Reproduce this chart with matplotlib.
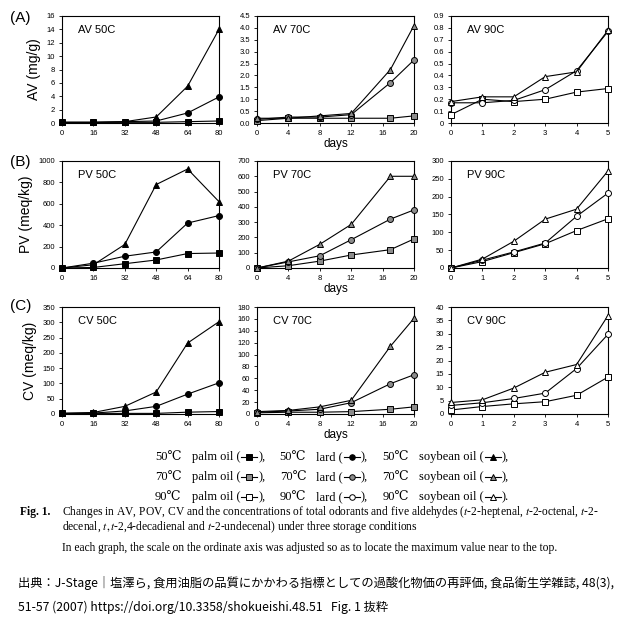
import numpy as np
import matplotlib
matplotlib.use('Agg')
import matplotlib.pyplot as plt
from matplotlib.lines import Line2D

plt.rcParams['font.family'] = ['Liberation Sans', 'DejaVu Sans']
plt.rcParams['mathtext.fontset'] = 'stix'

# storage days for each temperature
days50 = [0, 16, 32, 48, 64, 80]
days70 = [0, 4, 8, 12, 17, 20]
days90 = [0, 1, 2, 3, 4, 5]

# AV (mg/g)
av50_palm = [0.1, 0.1, 0.1, 0.1, 0.2, 0.3]
av50_lard = [0.1, 0.1, 0.2, 0.3, 1.5, 3.9]
av50_soy = [0.1, 0.1, 0.2, 0.9, 5.5, 14.0]
av70_palm = [0.1, 0.2, 0.2, 0.2, 0.2, 0.3]
av70_lard = [0.15, 0.25, 0.25, 0.35, 1.7, 2.65]
av70_soy = [0.2, 0.2, 0.3, 0.4, 2.25, 4.1]
av90_palm = [0.07, 0.2, 0.18, 0.2, 0.26, 0.29]
av90_lard = [0.17, 0.17, 0.19, 0.28, 0.44, 0.77]
av90_soy = [0.18, 0.22, 0.22, 0.39, 0.43, 0.78]

# PV (meq/kg)
pv50_palm = [0, 5, 40, 75, 135, 140]
pv50_lard = [0, 45, 110, 150, 420, 490]
pv50_soy = [0, 30, 220, 780, 925, 620]
pv70_palm = [0, 15, 45, 85, 120, 190]
pv70_lard = [0, 40, 80, 185, 320, 380]
pv70_soy = [0, 45, 155, 285, 600, 600]
pv90_palm = [0, 18, 43, 68, 105, 138]
pv90_lard = [0, 22, 45, 70, 145, 210]
pv90_soy = [0, 25, 75, 137, 165, 272]

# CV (meq/kg)
cv50_palm = [2, 2, 2, 2, 6, 8]
cv50_lard = [2, 3, 10, 25, 65, 102]
cv50_soy = [2, 5, 25, 72, 232, 302]
cv70_palm = [2, 3, 3, 4, 8, 12]
cv70_lard = [3, 5, 8, 19, 51, 66]
cv70_soy = [4, 6, 12, 23, 114, 161]
cv90_palm = [1.5, 2.8, 3.8, 4.6, 7.0, 13.8]
cv90_lard = [3.2, 4.2, 5.8, 7.8, 17.0, 29.8]
cv90_soy = [4.3, 5.3, 9.7, 15.6, 18.5, 36.8]

xticks50 = [0, 16, 32, 48, 64, 80]
xticks70 = [0, 4, 8, 12, 16, 20]
xticks90 = [0, 1, 2, 3, 4, 5]

yt_av50 = [0, 2, 4, 6, 8, 10, 12, 14, 16]
yt_av70 = [0.0, 0.5, 1.0, 1.5, 2.0, 2.5, 3.0, 3.5, 4.0, 4.5]
yl_av70 = ['0.0', '0.5', '1.0', '1.5', '2.0', '2.5', '3.0', '3.5', '4.0', '4.5']
yt_av90 = [0, 0.1, 0.2, 0.3, 0.4, 0.5, 0.6, 0.7, 0.8, 0.9]
yl_av90 = ['0', '0.1', '0.2', '0.3', '0.4', '0.5', '0.6', '0.7', '0.8', '0.9']
yt_pv50 = [0, 200, 400, 600, 800, 1000]
yt_pv70 = [0, 100, 200, 300, 400, 500, 600, 700]
yt_pv90 = [0, 50, 100, 150, 200, 250, 300]
yt_cv50 = [0, 50, 100, 150, 200, 250, 300, 350]
yt_cv70 = [0, 20, 40, 60, 80, 100, 120, 140, 160, 180]
yt_cv90 = [0, 5, 10, 15, 20, 25, 30, 35, 40]

fills = {50: 'black', 70: '#8c8c8c', 90: 'white'}
W = H = 640.0

fig = plt.figure(figsize=(6.4, 6.4), dpi=100)

col_left = [62, 257, 451]
row_top = [16, 161, 307]
aw, ah = 157, 107


def make_axes(r, c):
    return fig.add_axes([col_left[c] / W, 1 - (row_top[r] + ah) / H, aw / W, ah / H])


def draw_panel(r, c, temp, x, palm, lard, soy, xt, yt, title, ylab=None, ytl=None):
    ax = make_axes(r, c)
    fc = fills[temp]
    for y, m, ms in [(palm, 's', 4), (lard, 'o', 4.3), (soy, '^', 4.5)]:
        ax.plot(x, y, color='black', lw=0.8, marker=m, ms=ms, mfc=fc,
                mec='black', mew=0.7, clip_on=False, zorder=3)
    ax.set_xlim(xt[0], xt[-1])
    ax.set_ylim(yt[0], yt[-1])
    ax.set_xticks(xt)
    ax.set_yticks(yt)
    if ytl is not None:
        ax.set_yticklabels(ytl)
    ax.tick_params(labelsize=5.5, length=2, width=0.6, pad=3, direction='out')
    for s in ax.spines.values():
        s.set_linewidth(0.8)
    ax.text(0.1, 0.92, title, transform=ax.transAxes, fontsize=8, va='top')
    if ylab:
        ax.set_ylabel(ylab, fontsize=10, labelpad=4)
    if c == 1:
        ax.set_xlabel('days', fontsize=8.5, labelpad=1)
    return ax


draw_panel(0, 0, 50, days50, av50_palm, av50_lard, av50_soy, xticks50, yt_av50, 'AV 50C', 'AV (mg/g)')
draw_panel(0, 1, 70, days70, av70_palm, av70_lard, av70_soy, xticks70, yt_av70, 'AV 70C', ytl=yl_av70)
draw_panel(0, 2, 90, days90, av90_palm, av90_lard, av90_soy, xticks90, yt_av90, 'AV 90C', ytl=yl_av90)
draw_panel(1, 0, 50, days50, pv50_palm, pv50_lard, pv50_soy, xticks50, yt_pv50, 'PV 50C', 'PV (meq/kg)')
draw_panel(1, 1, 70, days70, pv70_palm, pv70_lard, pv70_soy, xticks70, yt_pv70, 'PV 70C')
draw_panel(1, 2, 90, days90, pv90_palm, pv90_lard, pv90_soy, xticks90, yt_pv90, 'PV 90C')
draw_panel(2, 0, 50, days50, cv50_palm, cv50_lard, cv50_soy, xticks50, yt_cv50, 'CV 50C', 'CV (meq/kg)')
draw_panel(2, 1, 70, days70, cv70_palm, cv70_lard, cv70_soy, xticks70, yt_cv70, 'CV 70C')
draw_panel(2, 2, 90, days90, cv90_palm, cv90_lard, cv90_soy, xticks90, yt_cv90, 'CV 90C')

for lab, yp in [('(A)', 18), ('(B)', 162), ('(C)', 306)]:
    fig.text(10 / W, 1 - yp / H, lab, fontsize=11, va='center')

# legend text in serif, with small line+marker samples, laid out piece by piece
serif = ['Liberation Serif', 'DejaVu Serif']
renderer = fig.canvas.get_renderer()
leg_rows = [457, 477, 497]
temps = [50, 70, 90]
seg = 18
x_start, x_end = 155, 509
for yp, t in zip(leg_rows, temps):
    yy = 1 - yp / H
    end = '.' if t == 90 else ','
    items = []
    for k, (name, m) in enumerate([('palm oil (', 's'), ('lard (', 'o'), ('soybean oil (', '^')]):
        last = k == 2
        items += [('t', '%d\u2103' % t), ('g', 1.0), ('t', name), ('m', m),
                  ('t', (')' + end) if last else '),')]
        if not last:
            items.append(('g', 1.4))
    # measure the text pieces
    widths = []
    for kind, v in items:
        if kind == 't':
            tt = fig.text(0, 0, v, fontsize=9, family=serif)
            widths.append(tt.get_window_extent(renderer).width)
            tt.remove()
        elif kind == 'm':
            widths.append(seg)
        else:
            widths.append(0)
    gap_units = sum(v for kind, v in items if kind == 'g')
    unit = (x_end - x_start - sum(widths)) / gap_units
    x = x_start
    for (kind, v), w in zip(items, widths):
        if kind == 't':
            fig.text(x / W, yy, v, fontsize=9, family=serif, va='center')
            x += w
        elif kind == 'm':
            x0, x1 = x + 1, x + seg - 1
            fig.add_artist(Line2D([x0 / W, x1 / W], [yy, yy], color='black', lw=0.8,
                                  transform=fig.transFigure))
            fig.add_artist(Line2D([(x0 + x1) / 2 / W], [yy], marker=v, ms=4,
                                  mfc=fills[t], mec='black', mew=0.7, lw=0,
                                  transform=fig.transFigure))
            x += w
        else:
            x += v * unit

fig.text(20 / W, 1 - 512 / H, 'Fig. 1.', fontsize=8.3, family=serif,
         weight='bold', va='center')
fig.text(62 / W, 1 - 512 / H,
         'Changes in AV, POV, CV and the concentrations of total odorants and five aldehydes '
         '($\\mathit{t}$-2-heptenal, $\\mathit{t}$-2-octenal, $\\mathit{t}$-2-',
         fontsize=8.3, family=serif, va='center')
fig.text(62 / W, 1 - 527 / H,
         'decenal, $\\mathit{t,t}$-2,4-decadienal and $\\mathit{t}$-2-undecenal) under three storage conditions',
         fontsize=8.3, family=serif, va='center')
fig.text(62 / W, 1 - 548 / H,
         'In each graph, the scale on the ordinate axis was adjusted so as to locate the maximum value near to the top.',
         fontsize=8.3, family=serif, va='center')

cjk = ['Noto Sans CJK JP', 'DejaVu Sans']
fig.text(18 / W, 1 - 583 / H,
         '出典：J-Stage｜塩澤ら, 食用油脂の品質にかかわる指標としての過酸化物価の再評価, 食品衛生学雑誌, 48(3),',
         fontsize=8.8, family=cjk, va='center')
fig.text(18 / W, 1 - 607 / H,
         '51-57 (2007) https://doi.org/10.3358/shokueishi.48.51   Fig. 1 抜粋',
         fontsize=8.8, family=cjk, va='center')

fig.savefig('out.png', dpi=100)
